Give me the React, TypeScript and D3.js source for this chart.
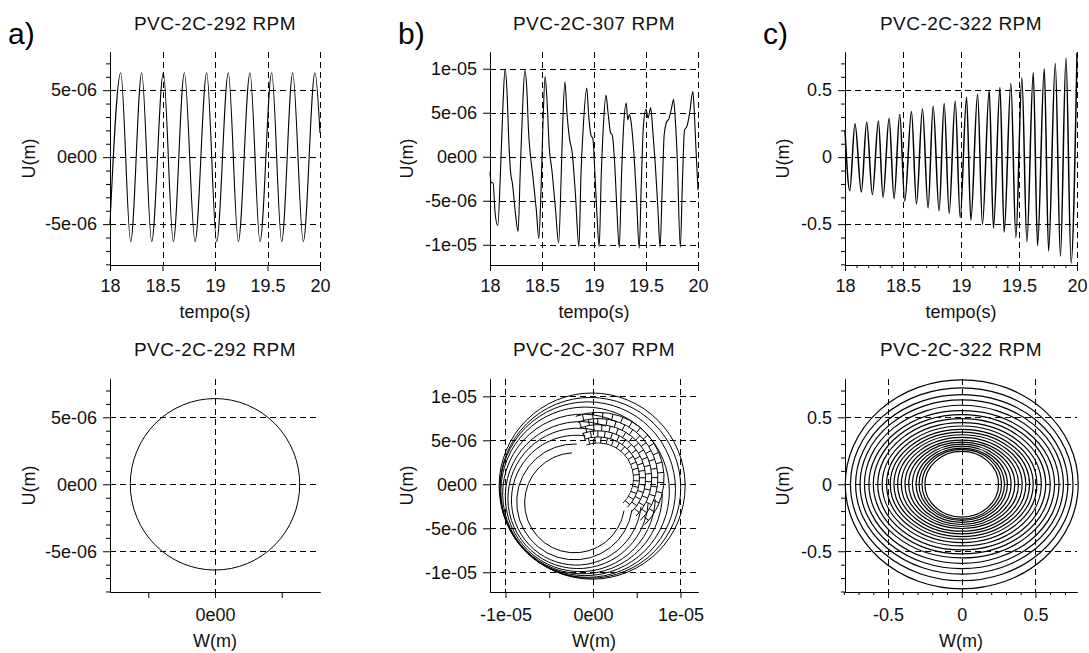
import React, { useEffect, useRef } from 'react';
import * as d3 from 'd3';

const W = 1089;
const H = 653;
const FONT = '"Liberation Sans", Arial, Helvetica, sans-serif';

// a) PVC-2C-292 RPM, turning points of U(t), in 1e-6 m
const timeA = [18.0, 18.102, 18.197, 18.302, 18.397, 18.508, 18.603, 18.708, 18.81, 18.921, 19.016,
    19.127, 19.222, 19.333, 19.429, 19.54, 19.635, 19.74, 19.841, 19.952, 20.0];
const dispA = [-5.0, 6.3, -6.3, 6.3, -6.3, 6.3, -6.3, 6.3, -6.3, 6.3, -6.3,
    6.3, -6.3, 6.3, -6.3, 6.3, -6.3, 6.3, -6.3, 6.3, 1.8];
// orbit a): semi axes (1e-6 m)
const orbitAW = [6.35];
const orbitAU = [6.4];

// b) PVC-2C-307 RPM, in 1e-6 m
const timeB = [18.0, 18.01, 18.03, 18.05, 18.075, 18.1, 18.125, 18.145, 18.165, 18.18, 18.2, 18.215, 18.245, 18.27,
    18.29, 18.315, 18.335, 18.355, 18.37, 18.39, 18.41, 18.445, 18.47, 18.49, 18.51, 18.53, 18.55, 18.57,
    18.595, 18.63, 18.66, 18.685, 18.7, 18.72, 18.74, 18.765, 18.79, 18.82, 18.855, 18.875, 18.895, 18.93,
    18.95, 18.97, 18.99, 19.005, 19.03, 19.05, 19.07, 19.09, 19.115, 19.135, 19.16, 19.175, 19.2, 19.22,
    19.243, 19.265, 19.285, 19.31, 19.325, 19.34, 19.355, 19.38, 19.41, 19.435, 19.455, 19.475, 19.5,
    19.52, 19.545, 19.565, 19.59, 19.615, 19.635, 19.655, 19.675, 19.7, 19.72, 19.745, 19.765, 19.78,
    19.8, 19.83, 19.85, 19.87, 19.895, 19.92, 19.95, 19.965, 19.98, 20.0];
const dispB = [-1.7, -2.9, -3.0, -6.5, -7.8, -2.0, 6.0, 10.0, 7.0, 2.0, -2.0, -3.0, -6.5, -8.5,
    -2.0, 6.0, 9.8, 7.5, 3.0, 0.0, -2.0, -6.0, -9.3, -4.0, 4.0, 9.1, 6.0, 1.0,
    -1.5, -6.0, -9.8, -2.0, 4.0, 8.5, 5.0, 2.0, 0.5, -4.0, -10.2, -2.0, 3.0, 7.8,
    4.5, 2.5, 2.0, -1.0, -7.0, -10.2, -2.0, 3.5, 7.0, 5.0, 2.7, 2.5, -1.0, -6.0,
    -10.3, -2.0, 3.5, 6.1, 4.2, 4.8, 4.1, 1.0, -5.0, -10.4, -3.0, 3.5, 5.4,
    4.4, 5.6, 3.0, -1.0, -6.0, -10.3, -4.0, 2.5, 4.0, 4.3, 5.5, 6.5, 4.5,
    0.0, -10.3, -3.0, 3.0, 3.5, 5.0, 7.4, 5.0, 1.0, -3.8];
// orbit b): rings (centre W, centre U, radius in 1e-6 m, arc start / end in degrees)
const ringBW = [-2.1, -2.1, -1.9, -1.7, -1.45, -1.2, -0.9, -0.6, -0.3, -0.1];
const ringBU = [-2.1, -2.0, -1.8, -1.6, -1.4, -1.1, -0.8, -0.6, -0.4, -0.2];
const ringBR = [5.7, 6.6, 7.4, 8.0, 8.55, 9.1, 9.6, 10.0, 10.3, 10.6];
const ringBFrom = [93, 88, 82, 76, 70, 64, 0, 0, 0, 0];
const ringBTo = [351, 352, 354, 356, 358, 360, 360, 360, 360, 360];
// orbit b): stepped band round the empty notch (polar around notch centre)
const notchBCenter = [0.6, 0.7];
const notchBR = 4.0;
const stepBR = [4.0, 4.7, 5.4, 6.1, 6.8, 7.5];
const stepBFrom = -45;
const stepBTo = 110;
const stepBAngles = [-40, -31, -22, -13, -4, 5, 14, 23, 32, 41, 50, 59, 68, 77, 86, 95, 104];

// c) PVC-2C-322 RPM, in m
const timeC = [18.0, 18.041, 18.086, 18.141, 18.187, 18.236, 18.288, 18.328, 18.38, 18.423, 18.472,
    18.515, 18.573, 18.616, 18.668, 18.716, 18.76, 18.811, 18.855, 18.898, 18.95, 18.993, 19.048,
    19.085, 19.143, 19.185, 19.243, 19.28, 19.336, 19.372, 19.43, 19.473, 19.525, 19.568, 19.623,
    19.66, 19.718, 19.755, 19.813, 19.857, 19.905, 19.949, 20.0];
const dispC = [0.2, -0.25, 0.25, -0.26, 0.26, -0.28, 0.27, -0.3, 0.29, -0.31, 0.32,
    -0.33, 0.34, -0.35, 0.36, -0.38, 0.38, -0.4, 0.4, -0.42, 0.42, -0.45, 0.45,
    -0.47, 0.47, -0.5, 0.5, -0.53, 0.52, -0.56, 0.55, -0.6, 0.59, -0.63, 0.63,
    -0.66, 0.66, -0.7, 0.7, -0.74, 0.74, -0.79, 0.78];
// orbit c): ring semi axes
const ringCW = [0.25, 0.27, 0.29, 0.31, 0.335, 0.36, 0.385, 0.41, 0.435, 0.46, 0.485,
    0.51, 0.54, 0.57, 0.6, 0.63, 0.66, 0.69, 0.72, 0.755, 0.79];
const ringCU = [0.245, 0.26, 0.27, 0.285, 0.3, 0.315, 0.33, 0.35, 0.37, 0.39, 0.41,
    0.435, 0.46, 0.49, 0.52, 0.55, 0.59, 0.63, 0.67, 0.72, 0.78];

// ticks
const timeTicks = [18, 18.5, 19, 19.5, 20];
const timeLabels = ['18', '18.5', '19', '19.5', '20'];
const microTicks5 = [-5, 0, 5];
const microLabels5 = ['-5e-06', '0e00', '5e-06'];
const microTicks10 = [-10, -5, 0, 5, 10];
const microLabels10 = ['-1e-05', '-5e-06', '0e00', '5e-06', '1e-05'];
const orbitBXLabels = ['-1e-05', '', '0e00', '', '1e-05'];
const orbitAXLabels = ['', '0e00', ''];
const halfTicks = [-0.5, 0, 0.5];
const halfLabels = ['-0.5', '0', '0.5'];
const titles = ['PVC-2C-292 RPM', 'PVC-2C-307 RPM', 'PVC-2C-322 RPM'];

const minorMicro = d3.range(-8, 8).filter(v => v % 5 !== 0);
const minorTenth = d3.range(-8, 8).filter(v => v % 5 !== 0).map(v => v / 10);
const minorTime = d3.range(181, 200).filter(v => v % 5 !== 0).map(v => v / 10);

type Panel = {
    left: number; right: number; top: number; bottom: number;
    xDomain: [number, number]; yDomain: [number, number];
    xTicks: number[]; xLabels: string[]; xMinor: number[]; xGrid: number[];
    yTicks: number[]; yLabels: string[]; yMinor: number[]; yGrid: number[];
    title: string; titleY: number; xTitle: string; xTitleY: number; yTitleX: number; tickPad: number;
};

const COLS = [{ left: 110, right: 320 }, { left: 490, right: 698 }, { left: 845, right: 1077 }];
const ROW1 = { top: 52, bottom: 265 };
const ROW2 = { top: 379, bottom: 592 };

function drawFrame(root: any, p: Panel) {
    const x = d3.scaleLinear().domain(p.xDomain).range([p.left, p.right]);
    const y = d3.scaleLinear().domain(p.yDomain).range([p.bottom, p.top]);
    const g = root.append('g');

    // dashed grid
    g.append('g').selectAll('line').data(p.xGrid).join('line')
        .attr('x1', d => Math.round(x(d)) + 0.5).attr('x2', d => Math.round(x(d)) + 0.5)
        .attr('y1', p.top).attr('y2', p.bottom)
        .attr('stroke', '#000').attr('stroke-dasharray', '6,4');
    g.append('g').selectAll('line').data(p.yGrid).join('line')
        .attr('y1', d => Math.round(y(d)) + 0.5).attr('y2', d => Math.round(y(d)) + 0.5)
        .attr('x1', p.left).attr('x2', p.right)
        .attr('stroke', '#000').attr('stroke-dasharray', '6,4');

    const content = g.append('g');

    // axes
    const ax = g.append('g').attr('font-family', FONT);
    ax.append('g').attr('transform', `translate(0,${p.bottom})`)
        .call(d3.axisBottom(x).tickValues(p.xMinor).tickFormat(() => '').tickSize(3).tickSizeOuter(0));
    ax.append('g').attr('transform', `translate(0,${p.bottom})`)
        .call(d3.axisBottom(x).tickValues(p.xTicks).tickFormat((_, i) => p.xLabels[i])
            .tickSize(6).tickPadding(p.tickPad).tickSizeOuter(0));
    ax.append('g').attr('transform', `translate(${p.left},0)`)
        .call(d3.axisLeft(y).tickValues(p.yMinor).tickFormat(() => '').tickSize(4).tickSizeOuter(0));
    ax.append('g').attr('transform', `translate(${p.left},0)`)
        .call(d3.axisLeft(y).tickValues(p.yTicks).tickFormat((_, i) => p.yLabels[i])
            .tickSize(7).tickPadding(6).tickSizeOuter(0));
    ax.selectAll('text').attr('font-family', FONT).attr('font-size', 18).attr('fill', '#111');
    ax.selectAll('path.domain').attr('stroke', '#000');

    // titles
    g.append('text').attr('x', (p.left + p.right) / 2).attr('y', p.titleY)
        .attr('text-anchor', 'middle').attr('font-family', FONT).attr('font-size', 19)
        .attr('letter-spacing', 0.5).attr('fill', '#111')
        .text(p.title);
    g.append('text').attr('x', (p.left + p.right) / 2).attr('y', p.xTitleY)
        .attr('text-anchor', 'middle').attr('font-family', FONT).attr('font-size', 18).attr('fill', '#111')
        .text(p.xTitle);
    g.append('text').attr('transform', `translate(${p.yTitleX},${(p.top + p.bottom) / 2}) rotate(-90)`)
        .attr('text-anchor', 'middle').attr('font-family', FONT).attr('font-size', 18).attr('fill', '#111')
        .text('U(m)');

    return { x, y, content };
}

function timePanel(col: number, xDomain: [number, number], yDomain: [number, number],
    yTicks: number[], yLabels: string[], yMinor: number[], xMinor: number[], yTitleX: number): Panel {
    return {
        ...COLS[col], ...ROW1, xDomain, yDomain,
        xTicks: timeTicks, xLabels: timeLabels, xMinor, xGrid: timeTicks.slice(1),
        yTicks, yLabels, yMinor, yGrid: yTicks,
        title: titles[col], titleY: 30, xTitle: 'tempo(s)', xTitleY: 318, yTitleX, tickPad: 8,
    };
}

function orbitPanel(col: number, xDomain: [number, number], yDomain: [number, number],
    xTicks: number[], xLabels: string[], xMinor: number[], xGrid: number[],
    yTicks: number[], yLabels: string[], yMinor: number[], yTitleX: number): Panel {
    return {
        ...COLS[col], ...ROW2, xDomain, yDomain,
        xTicks, xLabels, xMinor, xGrid,
        yTicks, yLabels, yMinor, yGrid: yTicks,
        title: titles[col], titleY: 356, xTitle: 'W(m)', xTitleY: 647, yTitleX, tickPad: 10,
    };
}

const rad = (deg: number) => (deg * Math.PI) / 180;

export default function App() {
    const svgRef = useRef<SVGSVGElement>(null);

    useEffect(() => {
        const svg = d3.select(svgRef.current);
        svg.selectAll('*').remove();
        const defs = svg.append('defs');
        const root = svg.append('g');

        // panel letters
        [['a)', 8], ['b)', 398], ['c)', 763]].forEach(([t, xp]) => {
            root.append('text').attr('x', xp as number).attr('y', 44).attr('font-family', FONT)
                .attr('font-size', 30).attr('fill', '#000').text(t as string);
        });

        const lineOf = (times: number[], x: any, y: any) =>
            d3.line<number>().x((_, i) => x(times[i])).y(d => y(d)).curve(d3.curveMonotoneX);

        // a) time
        {
            const { x, y, content } = drawFrame(root, timePanel(0, [18, 20], [-8.05, 7.85],
                microTicks5, microLabels5, minorMicro, [], 35));
            content.append('path').attr('d', lineOf(timeA, x, y)(dispA))
                .attr('fill', 'none').attr('stroke', '#000').attr('stroke-width', 1.1);
        }
        // b) time
        {
            const { x, y, content } = drawFrame(root, timePanel(1, [18, 20], [-12.3, 11.9],
                microTicks10, microLabels10, [], [], 413));
            content.append('path').attr('d', lineOf(timeB, x, y)(dispB))
                .attr('fill', 'none').attr('stroke', '#000').attr('stroke-width', 1.1);
        }
        // c) time
        {
            const { x, y, content } = drawFrame(root, timePanel(2, [18, 20], [-0.805, 0.785],
                halfTicks, halfLabels, minorTenth, minorTime, 789));
            content.append('path').attr('d', lineOf(timeC, x, y)(dispC))
                .attr('fill', 'none').attr('stroke', '#000').attr('stroke-width', 1.5);
        }
        // a) orbit
        {
            const { x, y, content } = drawFrame(root, orbitPanel(0, [-7.87, 7.87], [-8.04, 7.86],
                microTicks5, orbitAXLabels, [], [0], microTicks5, microLabels5, minorMicro, 35));
            content.selectAll('ellipse').data(orbitAW).join('ellipse')
                .attr('cx', x(0)).attr('cy', y(0))
                .attr('rx', d => x(d) - x(0)).attr('ry', (_, i) => y(0) - y(orbitAU[i]))
                .attr('fill', 'none').attr('stroke', '#000').attr('stroke-width', 1);
        }
        // b) orbit
        {
            const { x, y, content } = drawFrame(root, orbitPanel(1, [-11.77, 12.0], [-12.24, 11.97],
                microTicks10, orbitBXLabels, [], [-10, 0, 10], microTicks10, microLabels10, [], 413));
            const pxR = (r: number) => ((x(r) - x(0)) + (y(0) - y(r))) / 2;
            const ncx = x(notchBCenter[0]);
            const ncy = y(notchBCenter[1]);

            const mask = defs.append('mask').attr('id', 'orbitB-notch').attr('maskUnits', 'userSpaceOnUse')
                .attr('x', 0).attr('y', 0).attr('width', W).attr('height', H);
            mask.append('rect').attr('width', W).attr('height', H).attr('fill', '#fff');
            mask.append('circle').attr('cx', ncx).attr('cy', ncy).attr('r', pxR(notchBR) - 0.5).attr('fill', '#000');

            const outer = ringBR.length - 1;
            const clip = defs.append('clipPath').attr('id', 'orbitB-clip');
            clip.append('circle').attr('cx', x(ringBW[outer])).attr('cy', y(ringBU[outer]))
                .attr('r', pxR(ringBR[outer]));

            const orbit = content.append('g').attr('mask', 'url(#orbitB-notch)')
                .attr('fill', 'none').attr('stroke', '#000').attr('stroke-width', 1);
            orbit.append('g').selectAll('path').data(ringBR).join('path')
                .attr('d', (r, i) => {
                    const p = d3.path();
                    p.arc(x(ringBW[i]), y(ringBU[i]), pxR(r), -rad(ringBFrom[i]), -rad(ringBTo[i]), true);
                    return p.toString();
                });
            const band = orbit.append('g').attr('clip-path', 'url(#orbitB-clip)');
            // concentric steps of the band
            band.append('g').selectAll('path').data(stepBR).join('path')
                .attr('d', r => {
                    const p = d3.path();
                    p.arc(ncx, ncy, pxR(r), -rad(stepBFrom), -rad(stepBTo), true);
                    return p.toString();
                });
            // radial steps, staggered between neighbouring arcs
            const radial: [number, number, number][] = [];
            stepBR.slice(0, -1).forEach((r0, j) => {
                stepBAngles.forEach(a => radial.push([r0, stepBR[j + 1], a + (j % 2) * 4.5]));
            });
            band.append('g').selectAll('path').data(radial.filter(d => d[2] < stepBTo)).join('path')
                .attr('d', ([r0, r1, a]) => {
                    const p = d3.path();
                    p.moveTo(ncx + pxR(r0) * Math.cos(rad(a)), ncy - pxR(r0) * Math.sin(rad(a)));
                    p.lineTo(ncx + pxR(r1) * Math.cos(rad(a)), ncy - pxR(r1) * Math.sin(rad(a)));
                    return p.toString();
                });
        }
        // c) orbit
        {
            const { x, y, content } = drawFrame(root, orbitPanel(2, [-0.792, 0.782], [-0.804, 0.786],
                halfTicks, halfLabels, minorTenth, [-0.5, 0, 0.5], halfTicks, halfLabels, minorTenth, 789));
            content.selectAll('ellipse').data(ringCW).join('ellipse')
                .attr('cx', x(0)).attr('cy', y(0))
                .attr('rx', d => x(d) - x(0)).attr('ry', (_, i) => y(0) - y(ringCU[i]))
                .attr('fill', 'none').attr('stroke', '#000').attr('stroke-width', 1.2);
        }
    }, []);

    return (
        <svg ref={svgRef} width={W} height={H}
            style={{ position: 'absolute', left: 0, top: 0, background: '#fff' }} />
    );
}
